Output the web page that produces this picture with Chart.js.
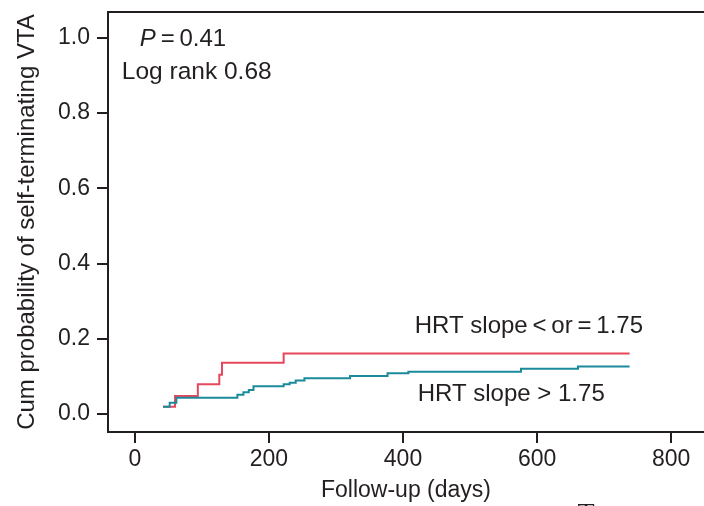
<!DOCTYPE html>
<html>
<head>
<meta charset="utf-8">
<script src="https://cdn.jsdelivr.net/npm/chart.js@4.4.1/dist/chart.umd.min.js"></script>
<style>
  html, body { margin: 0; padding: 0; background: #fff; overflow: hidden; }
  #wrap { width: 704px; height: 506px; position: relative; }
</style>
</head>
<body>
<div id="wrap"><canvas id="kmChart"></canvas></div>
<script>
// Kaplan-Meier style cumulative probability, one step per event
const lowSlopeDays = [42, 60, 94, 126, 130, 222, 738];
const lowSlopeProb = [0.019, 0.048, 0.079, 0.104, 0.136, 0.161, 0.161];
const highSlopeDays = [42, 52, 62, 153, 162, 170, 177, 222, 231, 240, 253, 321, 377, 408, 576, 661, 738];
const highSlopeProb = [0.019, 0.030, 0.043, 0.051, 0.058, 0.064, 0.074, 0.079, 0.083, 0.089, 0.095, 0.101, 0.108, 0.112, 0.120, 0.126, 0.126];
const xTickValues = [0, 200, 400, 600, 800];
const yTickValues = [0, 0.2, 0.4, 0.6, 0.8, 1.0];
const seriesNames = ['HRT slope\u2009<\u2009or\u2009=\u20091.75', 'HRT slope > 1.75'];

const axisColor = '#231f20';
const fontFamily = '"Liberation Sans", Arial, Helvetica, sans-serif';

function toPoints(days, probs) {
    return days.map((d, i) => ({ x: d, y: probs[i] }));
}

// Top frame line, in-plot text and the stray caption glyph at the bottom
const annotationPlugin = {
    id: 'kmAnnotations',
    afterDraw(chart) {
        const { ctx, chartArea, scales } = chart;
        const x = scales.x, y = scales.y;
        ctx.save();
        ctx.strokeStyle = axisColor;
        ctx.lineWidth = 2;
        ctx.beginPath();
        ctx.moveTo(chartArea.left - 1, chartArea.top);
        ctx.lineTo(chartArea.right, chartArea.top);
        ctx.stroke();

        ctx.fillStyle = axisColor;
        ctx.textBaseline = 'middle';
        ctx.textAlign = 'left';

        let px = x.getPixelForValue(7.5);
        const py = y.getPixelForValue(0.995);
        ctx.font = 'italic 24px ' + fontFamily;
        ctx.fillText('P', px, py);
        px += ctx.measureText('P').width;
        ctx.font = '24px ' + fontFamily;
        ctx.fillText('\u2009=\u20090.41', px, py);

        ctx.font = '24.5px ' + fontFamily;
        ctx.fillText('Log rank 0.68', x.getPixelForValue(-19.4), y.getPixelForValue(0.910));
        ctx.font = '24px ' + fontFamily;
        ctx.fillText(seriesNames[0], x.getPixelForValue(417.6), y.getPixelForValue(0.234));
        ctx.fillText(seriesNames[1], x.getPixelForValue(422), y.getPixelForValue(0.053));

        ctx.font = '28px "Liberation Serif", serif';
        ctx.textAlign = 'center';
        ctx.textBaseline = 'alphabetic';
        ctx.fillText('T', 586, 522);
        ctx.restore();
    }
};

const ctx = document.getElementById('kmChart').getContext('2d');
new Chart(ctx, {
    type: 'line',
    data: {
        datasets: [{
            label: seriesNames[0],
            data: toPoints(lowSlopeDays, lowSlopeProb),
            borderColor: '#e5485c',
            borderWidth: 2,
            stepped: 'before',
            pointRadius: 0,
            fill: false,
            order: 2
        }, {
            label: seriesNames[1],
            data: toPoints(highSlopeDays, highSlopeProb),
            borderColor: '#1b8a9b',
            borderWidth: 2,
            stepped: 'before',
            pointRadius: 0,
            fill: false,
            order: 1
        }]
    },
    options: {
        responsive: true,
        maintainAspectRatio: false,
        animation: false,
        layout: { padding: { top: 12, right: 0, left: 0, bottom: 0 } },
        plugins: {
            legend: { display: false },
            tooltip: { enabled: false }
        },
        scales: {
            x: {
                type: 'linear',
                min: -40,
                max: 849,
                afterBuildTicks: scale => { scale.ticks = xTickValues.map(v => ({ value: v })); },
                afterFit: scale => {
                    scale.height = 74;
                    scale.paddingLeft = 0;
                    scale.paddingRight = 0;
                },
                ticks: {
                    color: axisColor,
                    font: { family: fontFamily, size: 23 },
                    padding: 3,
                    maxRotation: 0,
                    callback: v => String(v)
                },
                grid: { drawOnChartArea: false, tickLength: 11, color: axisColor, lineWidth: 2 },
                border: { display: true, color: axisColor, width: 2 },
                title: {
                    display: true,
                    text: 'Follow-up (days)',
                    color: axisColor,
                    font: { family: fontFamily, size: 23 },
                    padding: { top: 0, bottom: 2 }
                }
            },
            y: {
                type: 'linear',
                min: -0.048,
                max: 1.069,
                afterBuildTicks: scale => { scale.ticks = yTickValues.map(v => ({ value: v })); },
                afterFit: scale => {
                    scale.width = 108;
                    scale.paddingTop = 0;
                    scale.paddingBottom = 0;
                },
                ticks: {
                    color: axisColor,
                    font: { family: fontFamily, size: 23 },
                    padding: 7,
                    callback: v => v.toFixed(1)
                },
                grid: { drawOnChartArea: false, tickLength: 11, color: axisColor, lineWidth: 2 },
                border: { display: true, color: axisColor, width: 2 },
                title: {
                    display: true,
                    text: 'Cum probability of self-terminating VTA',
                    color: axisColor,
                    font: { family: fontFamily, size: 24 },
                    padding: { top: 13, bottom: 0 }
                }
            }
        }
    },
    plugins: [annotationPlugin]
});
</script>
</body>
</html>
